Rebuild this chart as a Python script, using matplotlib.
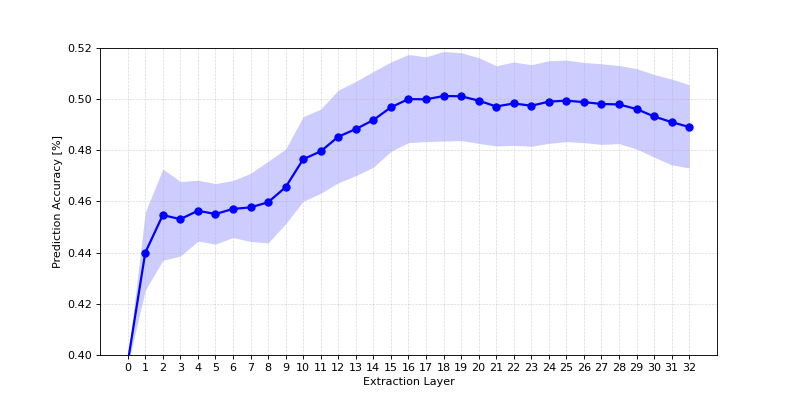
#!/usr/bin/env python3

import numpy as np
import matplotlib
matplotlib.use('Agg')
import matplotlib.pyplot as plt

layers = list(range(33))

acc_mean = [0.397, 0.440, 0.4547, 0.4531, 0.4564, 0.4551, 0.4571, 0.4577, 0.4597,
            0.4656, 0.4765, 0.4796, 0.4853, 0.4883, 0.4918, 0.4968, 0.5000,
            0.4999, 0.5012, 0.5011, 0.4994, 0.4971, 0.4983, 0.4974, 0.4990,
            0.4994, 0.4988, 0.4981, 0.4979, 0.4961, 0.4932, 0.4910, 0.4891]

acc_upper = [0.398, 0.4558, 0.4727, 0.4678, 0.4683, 0.4670, 0.4682, 0.4710, 0.4757,
             0.4805, 0.4931, 0.4961, 0.5035, 0.5069, 0.5108, 0.5145, 0.5174,
             0.5165, 0.5186, 0.5181, 0.5162, 0.5130, 0.5145, 0.5134, 0.5150,
             0.5152, 0.5143, 0.5138, 0.5131, 0.5119, 0.5096, 0.5078, 0.5056]

acc_lower = [0.396, 0.4253, 0.4370, 0.4387, 0.4445, 0.4434, 0.4459, 0.4444, 0.4438,
             0.4513, 0.4601, 0.4632, 0.4673, 0.4701, 0.4734, 0.4796, 0.4830,
             0.4834, 0.4836, 0.4838, 0.4827, 0.4817, 0.4819, 0.4816, 0.4827,
             0.4834, 0.4830, 0.4823, 0.4826, 0.4805, 0.4773, 0.4743, 0.4731]


def main():
    fig = plt.figure(figsize=(797 / 80, 399 / 80), dpi=80)
    ax = plt.gca()
    ax.fill_between(layers, acc_lower, acc_upper, color='blue', alpha=0.2, linewidth=0)
    ax.plot(layers, acc_mean, color='blue', marker='o', linewidth=2, markersize=6.5)
    ax.set_ylim(0.40, 0.52)
    ax.set_xticks(layers)
    ax.set_xlabel("Extraction Layer")
    ax.set_ylabel("Prediction Accuracy [%]")
    ax.grid(True, linestyle='--', linewidth=0.6, alpha=0.5)
    fig.savefig('out.png', dpi=80)


if __name__ == '__main__':
    main()
